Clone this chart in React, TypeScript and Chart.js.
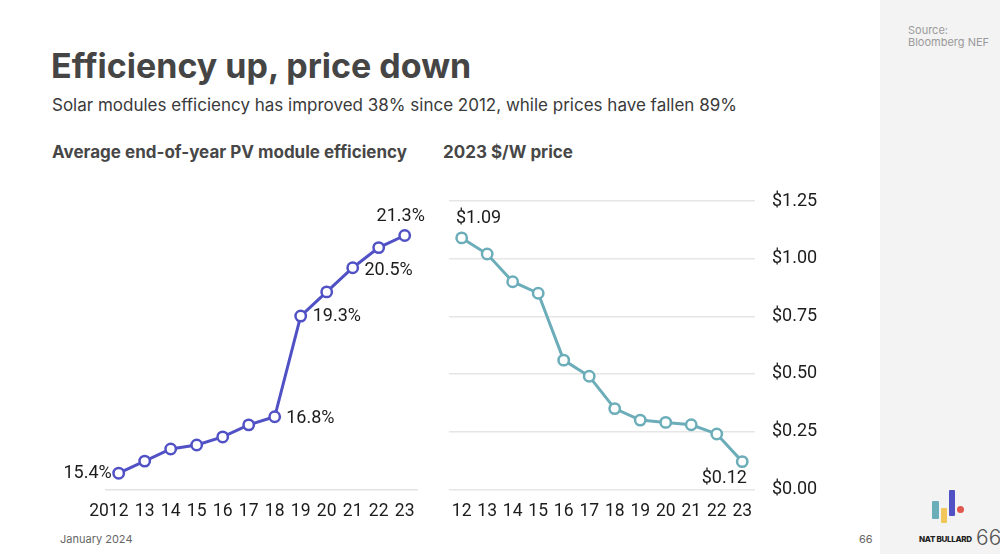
import React, { useEffect, useRef } from "react";
import { Chart, registerables } from "chart.js";

Chart.register(...registerables);

// ---------- data ----------
const efficiencyYears = ["2012", "13", "14", "15", "16", "17", "18", "19", "20", "21", "22", "23"];
const efficiencyValues = [15.4, 15.7, 16.0, 16.1, 16.3, 16.6, 16.8, 19.3, 19.9, 20.5, 21.0, 21.3];
const efficiencyLabeled = [0, 6, 7, 9, 11];

const priceYears = ["12", "13", "14", "15", "16", "17", "18", "19", "20", "21", "22", "23"];
const priceValues = [1.09, 1.02, 0.9, 0.85, 0.56, 0.49, 0.35, 0.3, 0.29, 0.28, 0.24, 0.12];
const priceLabeled = [0, 11];
const priceTicks = [0, 0.25, 0.5, 0.75, 1.0, 1.25];

// ---------- styles ----------
const PURPLE = "#5151c6";
const TEAL = "#6badb9";
const TEXT = "#1c1c1c";
const CHART_FONT = "Roboto";

const pointLabelsPlugin = {
  id: "pointLabels",
  afterDatasetsDraw(chart: any, _args: any, opts: any) {
    const { ctx } = chart;
    const meta = chart.getDatasetMeta(0);
    const data = chart.data.datasets[0].data as number[];
    ctx.save();
    ctx.font = opts.font;
    ctx.fillStyle = opts.color;
    ctx.textBaseline = "middle";
    for (const item of opts.items) {
      const el = meta.data[item.index];
      if (!el) continue;
      ctx.textAlign = item.align;
      ctx.fillText(opts.format(data[item.index]), el.x + item.dx, el.y + item.dy);
    }
    ctx.restore();
  },
};

function EfficiencyChart() {
  const ref = useRef<HTMLCanvasElement>(null);
  useEffect(() => {
    if (!ref.current) return;
    const placement: Record<number, { align: string; dx: number; dy: number }> = {
      0: { align: "right", dx: -7, dy: 0.5 },
      6: { align: "left", dx: 11.5, dy: 1.7 },
      7: { align: "left", dx: 12, dy: 0.8 },
      9: { align: "left", dx: 11.7, dy: 2.3 },
      11: { align: "center", dx: -4, dy: -19 },
    };
    const chart = new Chart(ref.current, {
      type: "line",
      data: {
        labels: efficiencyYears,
        datasets: [
          {
            data: efficiencyValues,
            borderColor: PURPLE,
            borderWidth: 3,
            pointRadius: 5.2,
            pointBorderWidth: 2.5,
            pointBackgroundColor: "#ffffff",
            pointBorderColor: PURPLE,
            tension: 0,
            clip: false as any,
          },
        ],
      },
      plugins: [pointLabelsPlugin as any],
      options: {
        responsive: false,
        animation: false,
        layout: { padding: { left: 65.7, right: 22.3, top: 27.3, bottom: 6.7 }, autoPadding: false },
        plugins: {
          legend: { display: false },
          tooltip: { enabled: false },
          pointLabels: {
            font: `18px ${CHART_FONT}`,
            color: TEXT,
            format: (v: number) => v.toFixed(1) + "%",
            items: efficiencyLabeled.map((i) => ({ index: i, ...placement[i] })),
          },
        } as any,
        scales: {
          x: {
            offset: true,
            grid: { display: false, drawTicks: false },
            border: { display: true, color: "#e3e3e3", width: 1.5 },
            ticks: {
              autoSkip: false,
              maxRotation: 0,
              padding: 11.5,
              color: TEXT,
              font: { family: CHART_FONT, size: 17.5 },
              callback: (_v: any, i: number) => (i === 0 ? efficiencyYears[i] + "\u2007\u2007" : efficiencyYears[i]),
            },
            afterFit: (s: any) => {
              s.height = 34;
            },
          },
          y: { display: false, min: 15, max: 22 },
        },
      },
    });
    return () => chart.destroy();
  }, []);
  return (
    <canvas
      ref={ref}
      width={400}
      height={350}
      style={{ position: "absolute", left: 40, top: 180, width: 400, height: 350 }}
    />
  );
}

function PriceChart() {
  const ref = useRef<HTMLCanvasElement>(null);
  useEffect(() => {
    if (!ref.current) return;
    const placement: Record<number, { align: string; dx: number; dy: number }> = {
      0: { align: "left", dx: -5.7, dy: -19 },
      11: { align: "right", dx: 4.7, dy: 16.7 },
    };
    const chart = new Chart(ref.current, {
      type: "line",
      data: {
        labels: priceYears,
        datasets: [
          {
            data: priceValues,
            borderColor: TEAL,
            borderWidth: 3,
            pointRadius: 5.2,
            pointBorderWidth: 2.5,
            pointBackgroundColor: "#ffffff",
            pointBorderColor: TEAL,
            tension: 0,
            clip: false as any,
          },
        ],
      },
      plugins: [pointLabelsPlugin as any],
      options: {
        responsive: false,
        animation: false,
        layout: { padding: { left: 8.3, right: 23, top: 21, bottom: 6.7 }, autoPadding: false },
        plugins: {
          legend: { display: false },
          tooltip: { enabled: false },
          pointLabels: {
            font: `18px ${CHART_FONT}`,
            color: TEXT,
            format: (v: number) => "$" + v.toFixed(2),
            items: priceLabeled.map((i) => ({ index: i, ...placement[i] })),
          },
        } as any,
        scales: {
          x: {
            offset: true,
            grid: { display: false, drawTicks: false },
            border: { display: false },
            ticks: {
              autoSkip: false,
              maxRotation: 0,
              padding: 11.5,
              color: TEXT,
              font: { family: CHART_FONT, size: 17.5 },
            },
            afterFit: (s: any) => {
              s.height = 34;
            },
          },
          y: {
            position: "right",
            min: 0,
            max: 1.25,
            afterBuildTicks: (s: any) => {
              s.ticks = priceTicks.map((v) => ({ value: v }));
            },
            grid: { color: "#e6e6e6", lineWidth: 1.5, drawTicks: false },
            border: { display: false },
            ticks: {
              padding: 17,
              color: TEXT,
              font: { family: CHART_FONT, size: 18 },
              callback: (v: any) => "$" + Number(v).toFixed(2),
            },
            afterFit: (s: any) => {
              s.width = 62;
              s.paddingTop = 0;
              s.paddingBottom = 0;
            },
          },
        },
      },
    });
    return () => chart.destroy();
  }, []);
  return (
    <canvas
      ref={ref}
      width={400}
      height={350}
      style={{ position: "absolute", left: 440, top: 180, width: 400, height: 350 }}
    />
  );
}

export default function App() {
  const abs = (s: React.CSSProperties): React.CSSProperties => ({ position: "absolute", margin: 0, whiteSpace: "nowrap", ...s });
  return (
    <div
      style={{
        position: "absolute",
        left: 0,
        top: 0,
        width: 1000,
        height: 554,
        background: "#ffffff",
        overflow: "hidden",
        fontFamily: "Inter, 'Noto Sans', sans-serif",
      }}
    >
      <div style={abs({ left: 880, top: 0, width: 120, height: 554, background: "#f3f3f3" })} />
      <div style={abs({ left: 908, top: 24, fontSize: 11, lineHeight: "12px", color: "#9a9a9a" })}>
        Source:
        <br />
        Bloomberg NEF
      </div>

      <div style={abs({ left: 51, top: 49, fontSize: 34, lineHeight: 1, fontWeight: 700, color: "#454545" })}>
        Efficiency up, price down
      </div>
      <div style={abs({ left: 52, top: 97, fontSize: 17, lineHeight: 1, color: "#3a3a3a" })}>
        Solar modules efficiency has improved 38% since 2012, while prices have fallen 89%
      </div>
      <div style={abs({ left: 52, top: 144, fontSize: 17, lineHeight: 1, fontWeight: 700, color: "#474747" })}>
        Average end-of-year PV module efficiency
      </div>
      <div style={abs({ left: 443, top: 144, fontSize: 17, lineHeight: 1, fontWeight: 700, color: "#474747" })}>
        2023 $/W price
      </div>

      <EfficiencyChart />
      <PriceChart />

      <div style={abs({ left: 60, top: 534, fontSize: 11, lineHeight: 1, color: "#666" })}>January 2024</div>
      <div style={abs({ left: 859, top: 534, fontSize: 11, lineHeight: 1, color: "#666" })}>66</div>

      {/* logo */}
      <div style={abs({ left: 932, top: 501, width: 7, height: 18, background: "#6badb9", borderRadius: 1 })} />
      <div style={abs({ left: 941, top: 508, width: 6, height: 15, background: "#f1c75b", borderRadius: 1 })} />
      <div style={abs({ left: 949, top: 490, width: 6, height: 26, background: "#5151c6", borderRadius: 1 })} />
      <div style={abs({ left: 957, top: 505.5, width: 7, height: 7, background: "#e0574d", borderRadius: "50%" })} />
      <div style={abs({ left: 919, top: 535, fontSize: 8, lineHeight: 1, fontWeight: 800, color: "#222", letterSpacing: -0.3 })}>
        NAT BULLARD
      </div>
      <div style={abs({ left: 976, top: 527, fontSize: 21, lineHeight: 1, fontWeight: 300, color: "#555" })}>66</div>
    </div>
  );
}
